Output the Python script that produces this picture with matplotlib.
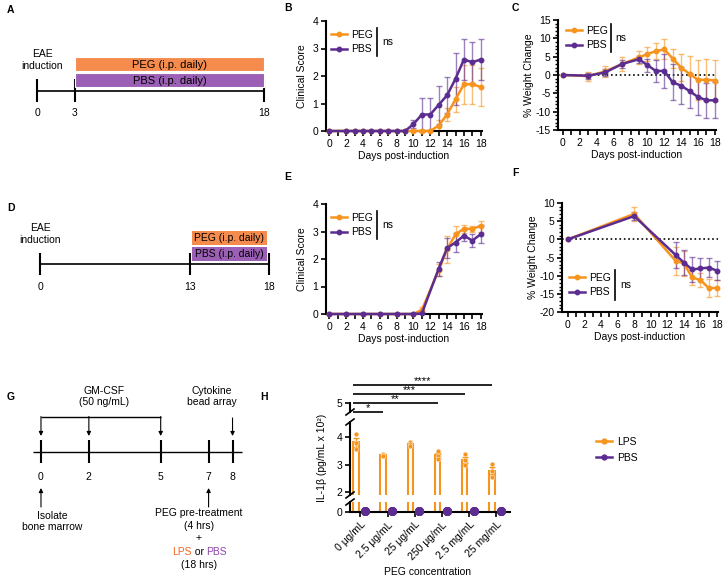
import numpy as np
import matplotlib
matplotlib.use('Agg')
import matplotlib.pyplot as plt
from matplotlib.lines import Line2D
from matplotlib.patches import Rectangle

plt.rcParams['font.family'] = ['Liberation Sans', 'DejaVu Sans']
plt.rcParams['font.size'] = 7.5
plt.rcParams['axes.unicode_minus'] = False

# ---------------- data ----------------
# Panel B: clinical score (treatment from day 3)
days_B = [0, 2, 3, 4, 5, 6, 7, 8, 9, 10, 11, 12, 13, 14, 15, 16, 17, 18]
B_peg = [0, 0, 0, 0, 0, 0, 0, 0, 0, 0, 0, 0, 0.2, 0.6, 1.15, 1.7, 1.7, 1.6]
B_peg_err = [0, 0, 0, 0, 0, 0, 0, 0, 0, 0, 0.05, 0, 0.2, 0.25, 0.45, 0.7, 0.7, 0.7]
B_pbs = [0, 0, 0, 0, 0, 0, 0, 0, 0, 0.25, 0.6, 0.6, 0.95, 1.3, 1.9, 2.6, 2.5, 2.6]
B_pbs_err = [0, 0, 0, 0, 0, 0, 0, 0, 0, 0.15, 0.6, 0.6, 0.7, 0.65, 0.95, 0.75, 0.75, 0.75]

# Panel C: weight change (treatment from day 3)
days_C = [0, 3, 5, 7, 9, 10, 11, 12, 13, 14, 15, 16, 17, 18]
C_peg = [0, -0.3, 1.0, 3.0, 4.8, 5.7, 6.5, 7.0, 4.5, 2.0, 0.3, -1.3, -1.3, -1.5]
C_peg_err = [0, 1.2, 1.5, 1.8, 1.8, 1.9, 2.2, 2.7, 2.7, 3.7, 5.0, 5.5, 5.8, 5.5]
C_pbs = [0, -0.2, 0.7, 3.0, 4.3, 2.7, 1.1, 1.1, -2.0, -2.9, -4.4, -6.0, -6.9, -6.9]
C_pbs_err = [0, 0.8, 1.0, 1.0, 1.0, 1.8, 2.9, 4.7, 4.9, 5.0, 4.6, 4.8, 4.8, 4.9]

# Panel E: clinical score (treatment from day 13)
days_E = [0, 2, 4, 6, 8, 10, 11, 13, 14, 15, 16, 17, 18]
E_peg = [0, 0, 0, 0, 0, 0, 0.15, 1.6, 2.35, 2.9, 3.1, 3.1, 3.2]
E_peg_err = [0, 0, 0, 0, 0, 0, 0.1, 0.23, 0.5, 0.3, 0.15, 0.1, 0.2]
E_pbs = [0, 0, 0, 0, 0, 0, 0.02, 1.65, 2.4, 2.6, 2.85, 2.67, 2.9]
E_pbs_err = [0, 0, 0, 0, 0, 0, 0, 0.25, 0.38, 0.33, 0.2, 0.25, 0.33]

# Panel F: weight change (treatment from day 13)
days_F = [0, 8, 13, 14, 15, 16, 17, 18]
F_peg = [0, 7.0, -5.9, -6.6, -10.5, -11.2, -13.4, -13.4]
F_peg_err = [0, 2.0, 3.8, 3.5, 2.0, 2.0, 2.4, 2.2]
F_pbs = [0, 6.4, -4.3, -6.4, -8.3, -8.0, -7.8, -8.6]
F_pbs_err = [0, 1.0, 3.6, 3.5, 3.5, 3.0, 2.7, 2.7]

# Panel H: IL-1beta (pg/mL x 10^2)
conc_labels = ["0 μg/mL", "2.5 μg/mL", "25 μg/mL", "250 μg/mL", "2.5 mg/mL", "25 mg/mL"]
lps_points = [[4.1, 3.8, 3.55], [3.4, 3.35, 3.3], [3.83, 3.74, 3.68],
              [3.5, 3.3, 3.2], [3.38, 3.15, 3.0], [3.03, 2.76, 2.55]]
pbs_points = [[0.05, 0.05, 0.05]] * 6
sig_groups = [1, 3, 4, 5]
sig_labels = ["*", "**", "***", "****"]

# Timelines
timeline_A = [0, 3, 18]
treat_A = (3, 18)
timeline_D = [0, 13, 18]
treat_D = (13, 18)
timeline_G = [0, 2, 5, 7, 8]
gmcsf_days = [0, 2, 5]
cba_day = 8
isolate_day = 0
pretreat_day = 7

# ---------------- style ----------------
ORANGE = '#F7941D'
PURPLE = '#5C2D91'
BAR_OR = '#F58B4C'
BAR_PU = '#9B5FB5'
LPS_TXT = '#F26522'
PBS_TXT = '#8E44AD'

W, H = 726, 578
fig = plt.figure(figsize=(W / 100, H / 100), dpi=100)


def add_ax(l, t, r, b):
    return fig.add_axes([l / W, 1 - b / H, (r - l) / W, (b - t) / H])


def fx(x):
    return x / W


def fy(y):
    return 1 - y / H


for lbl, x, y in [('A', 7, 10), ('B', 284, 8), ('C', 512, 8), ('D', 7, 208),
                  ('E', 284, 177), ('F', 512, 173), ('G', 7, 397), ('H', 260, 397)]:
    fig.text(fx(x), fy(y), lbl, fontweight='bold', fontsize=7.5, ha='left', va='center')


def style_line_ax(ax, xlim, ylim, yticks, yminor=None):
    ax.set_xlim(xlim)
    ax.set_ylim(ylim)
    for s in ['top', 'right']:
        ax.spines[s].set_visible(False)
    for s in ['left', 'bottom']:
        ax.spines[s].set_linewidth(1.5)
    ax.set_xticks(range(0, 19, 2))
    ax.set_xticks(range(0, 19), minor=True)
    ax.set_yticks(yticks)
    if yminor is not None:
        ax.set_yticks(yminor, minor=True)
    ax.tick_params(which='both', direction='out', width=1.2, length=3.5, labelsize=7.5, pad=2)
    ax.tick_params(axis='y', which='minor', length=2, width=1)
    ax.set_xlabel('Days post-induction', labelpad=2)


def series(ax, x, y, e, color):
    x = np.array(x, float); y = np.array(y, float); e = np.array(e, float)
    m = e > 0
    ax.errorbar(x[m], y[m], yerr=e[m], fmt='none', ecolor=color, alpha=0.6,
                elinewidth=1, capsize=2.2, capthick=1, clip_on=False, zorder=2)
    ax.plot(x, y, '-o', color=color, lw=1.8, ms=3.2, clip_on=False, zorder=3)


handles = [Line2D([], [], color=ORANGE, marker='o', ms=3.2, lw=1.8),
           Line2D([], [], color=PURPLE, marker='o', ms=3.2, lw=1.8)]


def legend_ns(ax, labels, x_left, y_center, bar_x, bar_top, bar_bot, ns_x):
    ax.legend(handles, labels, loc='center left', bbox_to_anchor=(fx(x_left), fy(y_center)),
              bbox_transform=fig.transFigure, frameon=False, handlelength=1.5,
              handletextpad=0.4, labelspacing=0.45, borderpad=0, borderaxespad=0, fontsize=7.5)
    fig.add_artist(Line2D([fx(bar_x)] * 2, [fy(bar_top), fy(bar_bot)], color='black', lw=1.2))
    fig.text(fx(ns_x), fy((bar_top + bar_bot) / 2), 'ns', ha='left', va='center', fontsize=7.5)


# ---------------- B ----------------
axB = add_ax(326, 21, 482, 131)
style_line_ax(axB, (-0.4, 18.15), (0, 4), [0, 1, 2, 3, 4])
series(axB, days_B, B_peg, B_peg_err, ORANGE)
series(axB, days_B, B_pbs, B_pbs_err, PURPLE)
axB.set_ylabel('Clinical Score', labelpad=4)
legend_ns(axB, ['PEG', 'PBS'], 331, 42, 377, 28, 56, 382)

# ---------------- C ----------------
axC = add_ax(558, 20, 716, 130)
style_line_ax(axC, (-0.59, 18.13), (-15, 15), [-15, -10, -5, 0, 5, 10, 15], np.arange(-15, 16, 1))
axC.axhline(0, color='black', ls=':', lw=1.2, zorder=1)
series(axC, days_C, C_peg, C_peg_err, ORANGE)
series(axC, days_C, C_pbs, C_pbs_err, PURPLE)
axC.set_ylabel('% Weight Change', labelpad=1)
legend_ns(axC, ['PEG', 'PBS'], 566, 38, 611, 24, 52, 615)

# ---------------- E ----------------
axE = add_ax(326, 204, 482, 314)
style_line_ax(axE, (-0.4, 18.15), (0, 4), [0, 1, 2, 3, 4])
series(axE, days_E, E_peg, E_peg_err, ORANGE)
series(axE, days_E, E_pbs, E_pbs_err, PURPLE)
axE.set_ylabel('Clinical Score', labelpad=4)
legend_ns(axE, ['PEG', 'PBS'], 331, 225, 377, 211, 239, 382)

# ---------------- F ----------------
axF = add_ax(562, 203, 718, 312)
style_line_ax(axF, (-0.72, 18.12), (-20, 10), [-20, -15, -10, -5, 0, 5, 10], np.arange(-20, 11, 1))
axF.axhline(0, color='black', ls=':', lw=1.2, zorder=1)
series(axF, days_F, F_peg, F_peg_err, ORANGE)
series(axF, days_F, F_pbs, F_pbs_err, PURPLE)
axF.set_ylabel('% Weight Change', labelpad=1)
legend_ns(axF, ['PEG', 'PBS'], 569, 285, 615, 270, 300, 620)

# ---------------- A (timeline) ----------------
axA = add_ax(20, 40, 280, 125)
pxA = 12.61
axA.set_xlim(-17 / pxA, 18 + 16 / pxA)
axA.set_ylim(125, 40)
axA.axis('off')
axA.hlines(91, timeline_A[0], timeline_A[-1], color='black', lw=1.2)
axA.vlines(timeline_A, 79, 102, color='black', lw=1.5)
axA.add_patch(Rectangle((treat_A[0], 57), treat_A[1] - treat_A[0], 14, facecolor=BAR_OR,
                        edgecolor='white', lw=0.8, zorder=3))
axA.add_patch(Rectangle((treat_A[0], 73), treat_A[1] - treat_A[0], 14, facecolor=BAR_PU,
                        edgecolor='white', lw=0.8, zorder=3))
axA.text(sum(treat_A) / 2, 64.5, 'PEG (i.p. daily)', ha='center', va='center', fontsize=8, zorder=4)
axA.text(sum(treat_A) / 2, 80.5, 'PBS (i.p. daily)', ha='center', va='center', fontsize=8, zorder=4)
for d in timeline_A:
    axA.text(d, 113, str(d), ha='center', va='center')
axA.text(0.4, 60, 'EAE\ninduction', ha='center', va='center', linespacing=1.15)

# ---------------- D (timeline) ----------------
kn_d = [-10, 0, 13, 18, 30]
kn_p = [-115.4, 0, 150, 229, 418.6]
fwd = lambda x: np.interp(x, kn_d, kn_p)
inv = lambda p: np.interp(p, kn_p, kn_d)
axD = add_ax(20, 215, 285, 300)
axD.set_xscale('function', functions=(fwd, inv))
axD.set_xlim(float(inv(-20)), float(inv(245)))
axD.set_ylim(300, 215)
axD.axis('off')
axD.hlines(264, timeline_D[0], timeline_D[-1], color='black', lw=1.2)
axD.vlines(timeline_D, 253, 275, color='black', lw=1.5)
axD.add_patch(Rectangle((treat_D[0] + 0.1, 231), treat_D[1] - treat_D[0] - 0.2, 14,
                        facecolor=BAR_OR, edgecolor='none', zorder=3))
axD.add_patch(Rectangle((treat_D[0] + 0.1, 247), treat_D[1] - treat_D[0] - 0.2, 14,
                        facecolor=BAR_PU, edgecolor='none', zorder=3))
axD.text(sum(treat_D) / 2, 238.5, 'PEG (i.p. daily)', ha='center', va='center', fontsize=7.5, zorder=4)
axD.text(sum(treat_D) / 2, 254.5, 'PBS (i.p. daily)', ha='center', va='center', fontsize=7.5, zorder=4)
for d in timeline_D:
    axD.text(d, 287, str(d), ha='center', va='center')
axD.text(0, 234, 'EAE\ninduction', ha='center', va='center', linespacing=1.15)

# ---------------- G (timeline) ----------------
pxG = 26.25
axG = add_ax(20, 380, 290, 578)
axG.set_xlim(-23 / pxG, 10.4)
axG.set_ylim(578, 380)
axG.axis('off')
axG.hlines(452, timeline_G[0] - 9 / pxG, timeline_G[-1] + 10 / pxG, color='black', lw=1.0)
axG.vlines(timeline_G, 440, 463, color='black', lw=1.5)
for d in timeline_G:
    axG.text(d, 477, str(d), ha='center', va='center')
axG.hlines(417, gmcsf_days[0], gmcsf_days[-1], color='black', lw=1.0)
arr = dict(arrowstyle='-|>', color='black', lw=0.8, mutation_scale=6, shrinkA=0, shrinkB=0)
for d in gmcsf_days:
    axG.annotate('', xy=(d, 436), xytext=(d, 416.5), arrowprops=arr)
axG.annotate('', xy=(cba_day, 436), xytext=(cba_day, 418), arrowprops=arr)
axG.annotate('', xy=(isolate_day, 488), xytext=(isolate_day, 507), arrowprops=arr)
axG.annotate('', xy=(pretreat_day, 488), xytext=(pretreat_day, 507), arrowprops=arr)
axG.text(2.63, 396.5, 'GM-CSF\n(50 ng/mL)', ha='center', va='center', linespacing=1.2)
axG.text(7.12, 396.5, 'Cytokine\nbead array', ha='center', va='center', linespacing=1.2)
axG.text(0.46, 521.5, 'Isolate\nbone marrow', ha='center', va='center', linespacing=1.2)
cx = 6.6
axG.text(cx, 513, 'PEG pre-treatment', ha='center', va='center')
axG.text(cx, 526, '(4 hrs)', ha='center', va='center')
axG.text(cx, 538.5, '+', ha='center', va='center')
t_or = axG.text(cx, 552, ' or ', ha='center', va='center')
axG.annotate('LPS', xy=(0, 0), xycoords=t_or, ha='right', va='bottom', color=LPS_TXT)
axG.annotate('PBS', xy=(1, 0), xycoords=t_or, ha='left', va='bottom', color=PBS_TXT)
axG.text(cx, 565, '(18 hrs)', ha='center', va='center')

# ---------------- H (broken axis bar chart) ----------------
xlimH = (-0.386, 5.498)
ax_top = add_ax(350, 403, 510, 412)
ax_mid = add_ax(350, 422, 510, 495)
ax_bot = add_ax(350, 502, 510, 512)
ax_top.set_ylim(4.75, 5.0)
ax_mid.set_ylim(1.895, 4.55)
ax_bot.set_ylim(0, 0.36)
ax_top.set_yticks([5])
ax_mid.set_yticks([2, 3, 4])
ax_bot.set_yticks([0])
idx = np.arange(len(conc_labels))
off = 0.165
bw = 0.2
lps_mean = np.array([np.mean(p) for p in lps_points])
lps_sem = np.array([np.std(p, ddof=1) / np.sqrt(len(p)) for p in lps_points])
pbs_mean = np.array([np.mean(p) for p in pbs_points])
for ax in (ax_top, ax_mid, ax_bot):
    ax.set_xlim(xlimH)
    for s in ['top', 'right']:
        ax.spines[s].set_visible(False)
    ax.spines['left'].set_linewidth(1.5)
    ax.spines['bottom'].set_linewidth(1.5)
    ax.tick_params(which='both', direction='out', width=1.2, length=3.5, labelsize=7.5, pad=2)
    if ax is not ax_bot:
        ax.spines['bottom'].set_visible(False)
        ax.tick_params(axis='x', which='both', bottom=False, labelbottom=False)
for ax in (ax_mid, ax_bot):
    ax.bar(idx - off, lps_mean, width=bw, facecolor='white', edgecolor=ORANGE, lw=1.5, zorder=2)
ax_mid.errorbar(idx - off, lps_mean, yerr=lps_sem, fmt='none', ecolor=ORANGE, elinewidth=1,
                capsize=2, capthick=1, zorder=3)
for i, pts in enumerate(lps_points):
    ax_mid.plot([i - off] * len(pts), pts, 'o', color=ORANGE, ms=3.5, mec='white', mew=0.3, zorder=4,
                clip_on=False)
ax_bot.bar(idx + off, pbs_mean, width=bw, facecolor='white', edgecolor=PURPLE, lw=1.5, zorder=2)
for i, pts in enumerate(pbs_points):
    ax_bot.plot([i + off] * len(pts), pts, 'o', color=PURPLE, ms=5.5, zorder=4, clip_on=False)
ax_bot.set_xticks(idx)
ax_bot.set_xticklabels(conc_labels, rotation=45, ha='right', va='top', rotation_mode='anchor')

# break marks on y axis
for yb in (412, 422, 495, 502):
    fig.add_artist(Line2D([fx(346), fx(354)], [fy(yb + 3), fy(yb - 3)], color='black', lw=1.2))

# significance brackets
ax_sig = add_ax(350, 370, 510, 415)
ax_sig.set_xlim(xlimH)
ax_sig.set_ylim(415, 370)
ax_sig.axis('off')
sig_y = [412, 403, 394, 385]
for g, lab, yy in zip(sig_groups, sig_labels, sig_y):
    x0, x1 = 0 - off - bw / 2, g - off
    ax_sig.hlines(yy, x0, x1, color='black', lw=1.2)
    ax_sig.text((x0 + x1) / 2, yy + 1, lab, ha='center', va='bottom', fontsize=8)

fig.text(fx(322), fy(458), 'IL-1β (pg/mL x 10²)', rotation=90, ha='center', va='center')
fig.text(fx(428), fy(572), 'PEG concentration', ha='center', va='center')

hH = [Line2D([], [], color=ORANGE, marker='o', ms=3.5, lw=1.8),
      Line2D([], [], color=PURPLE, marker='o', ms=3.5, lw=1.8)]
fig.legend(hH, ['LPS', 'PBS'], loc='center left', bbox_to_anchor=(fx(596), fy(450)),
           frameon=False, handlelength=1.5, handletextpad=0.5, labelspacing=0.6,
           borderpad=0, borderaxespad=0, fontsize=7.5)

fig.savefig('out.png', dpi=100)
